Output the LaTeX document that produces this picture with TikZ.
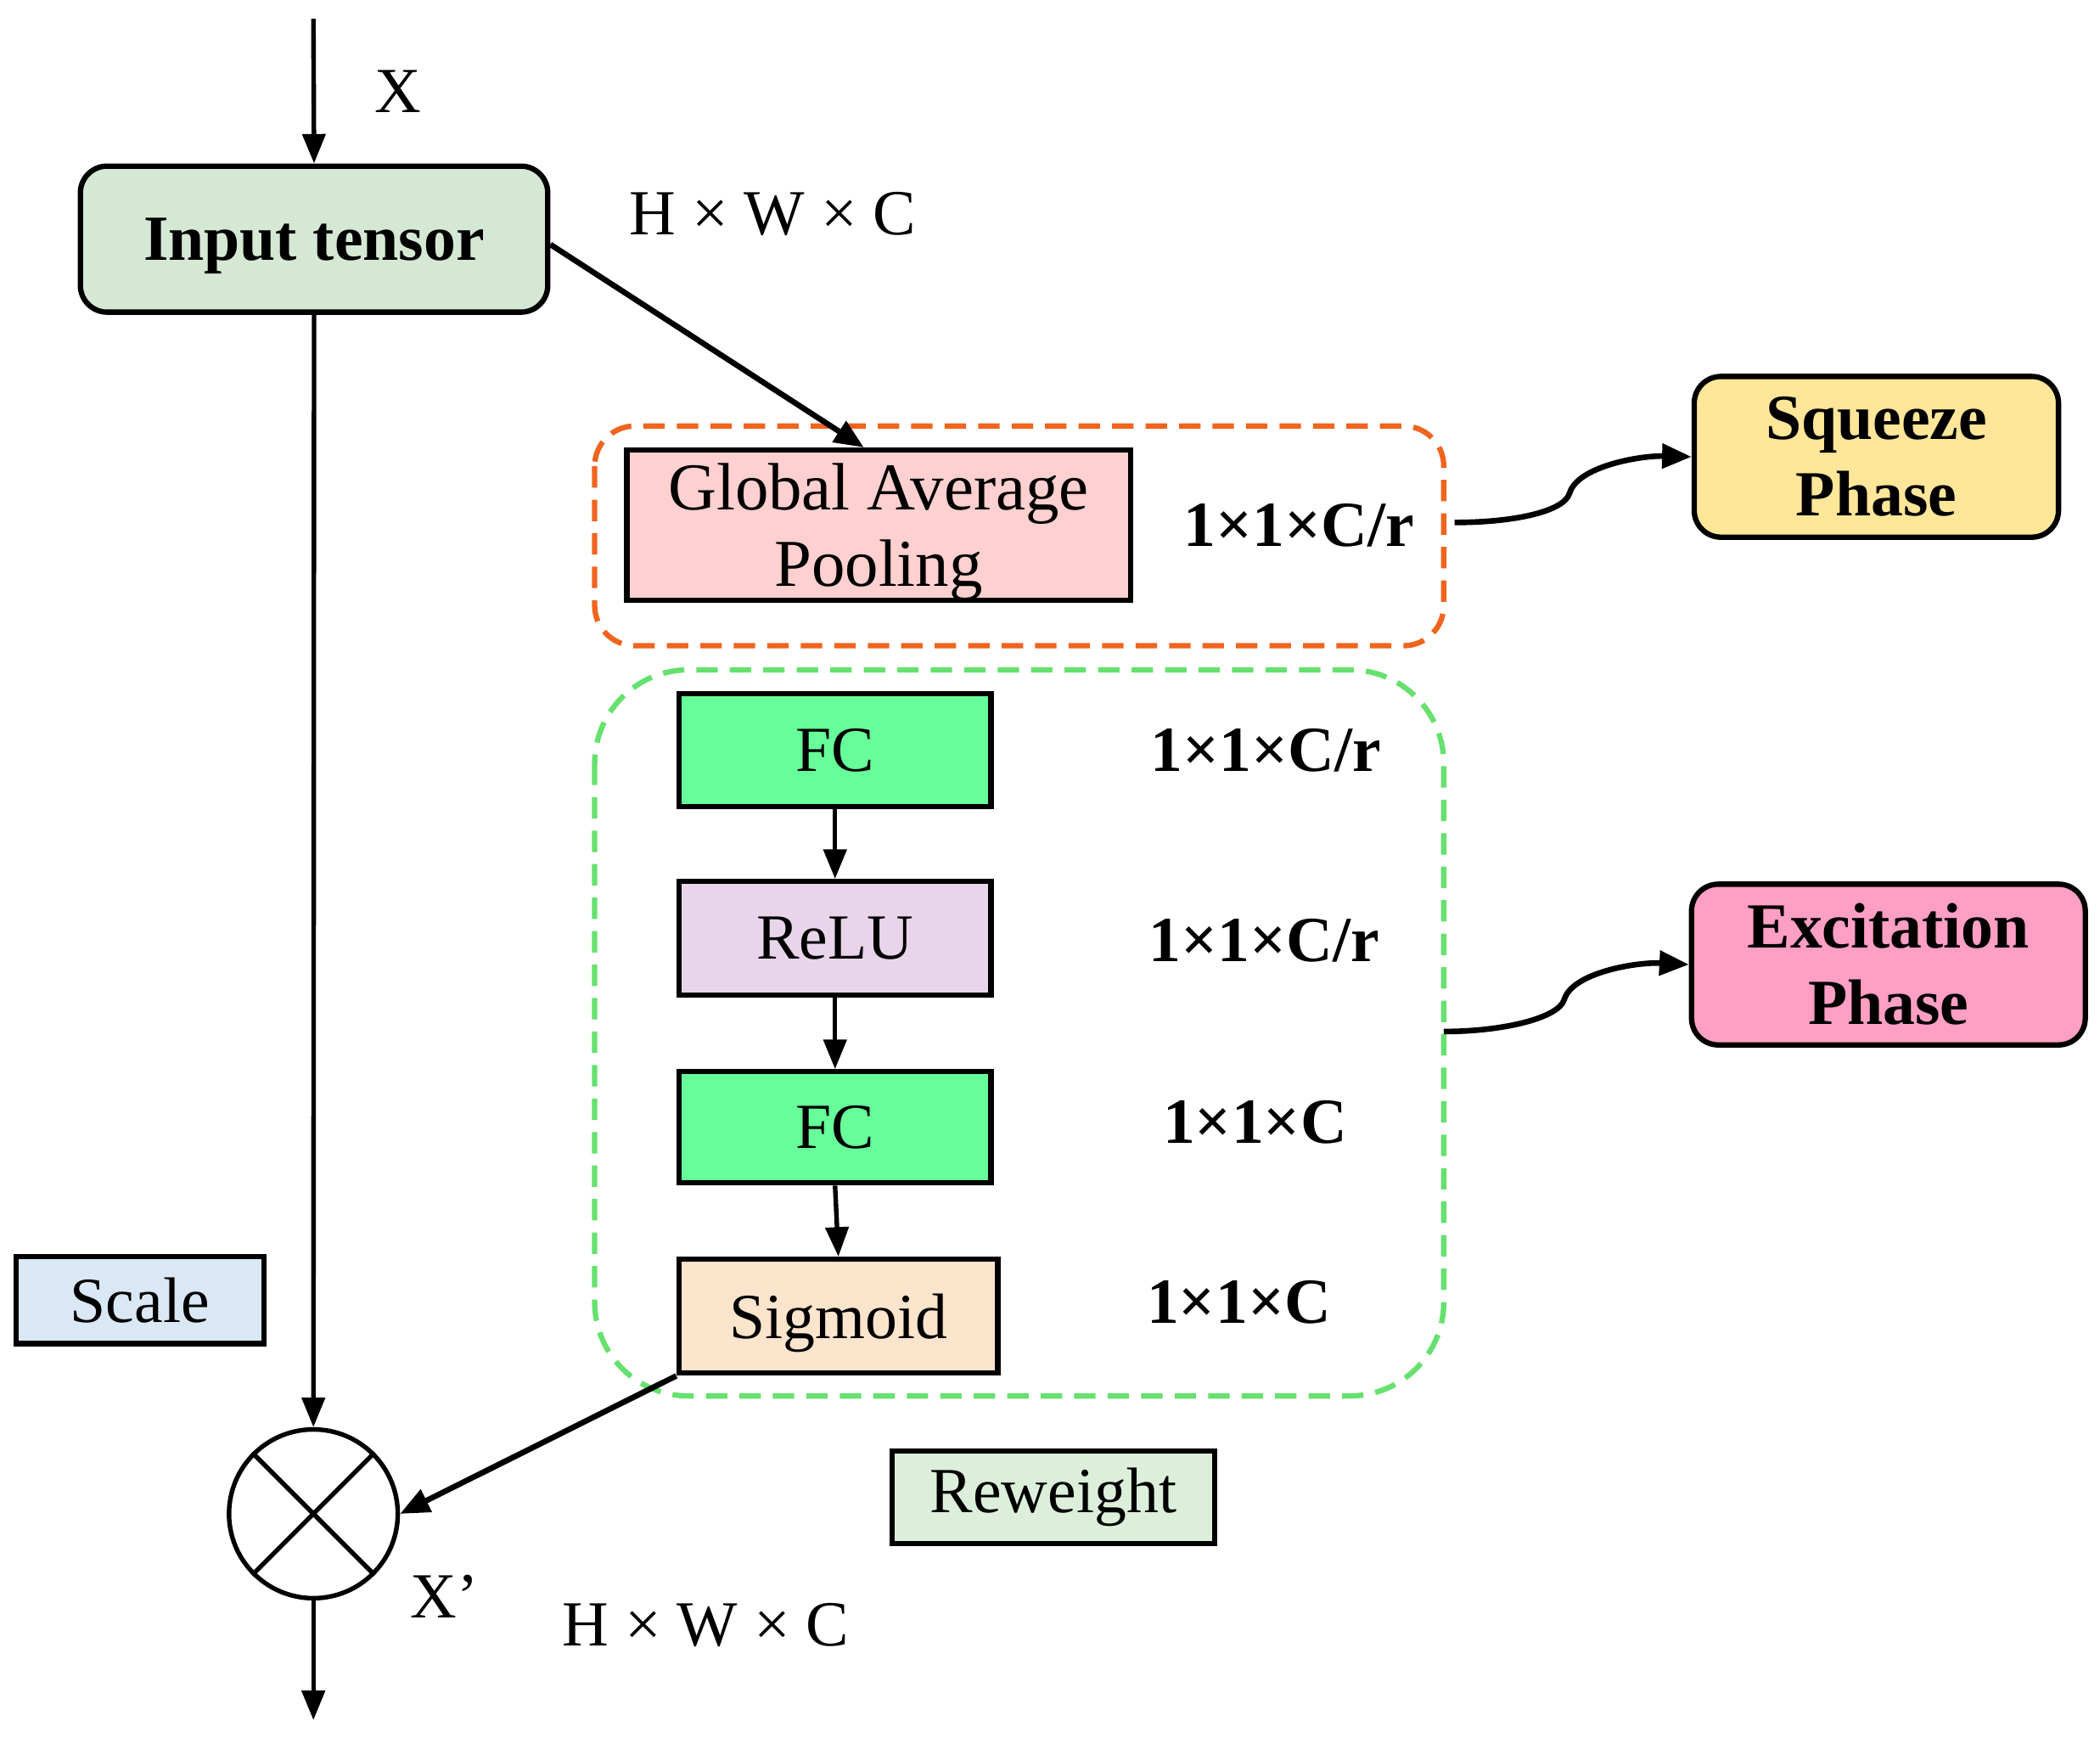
\documentclass[tikz,border=0pt]{standalone}
\usepackage{fontspec}
\setmainfont{Liberation Serif}
\usetikzlibrary{arrows.meta,shapes.geometric,calc}
\definecolor{inpfill}{HTML}{D5E8D4}
\definecolor{gapfill}{HTML}{FFD0D0}
\definecolor{sqfill}{HTML}{FFE699}
\definecolor{excfill}{HTML}{FF9FC3}
\definecolor{fcfill}{HTML}{66FF99}
\definecolor{relufill}{HTML}{E8D5EA}
\definecolor{sigfill}{HTML}{FDE4CC}
\definecolor{scalefill}{HTML}{DAE8F5}
\definecolor{rwfill}{HTML}{DCEFDA}
\definecolor{orangedash}{HTML}{F0641E}
\definecolor{greendash}{HTML}{66E06E}
\begin{document}
\begin{tikzpicture}[x=0.5pt,y=-0.5pt,
  txt/.style={font=\fontsize{24}{28}\selectfont},
  btxt/.style={font=\fontsize{24}{28}\selectfont\bfseries},
  sqbox/.style={draw,line width=2pt,rectangle,inner sep=0pt,align=center,font=\fontsize{24}{28}\selectfont},
  rbox/.style={draw,line width=2pt,rectangle,rounded corners=10pt,inner sep=0pt,align=center,font=\fontsize{24}{28.5}\selectfont\bfseries},
  arr/.style={line width=2.1pt,-{Triangle[length=11pt,width=9pt]}},
  thin arr/.style={line width=1.7pt,-{Triangle[length=11pt,width=8.5pt]}},
  grp/.style={line width=2pt,dash pattern=on 8pt off 4.5pt}]
\useasboundingbox (0,0) rectangle (1568,1297);

% group frames
\draw[grp,orangedash,rounded corners=15pt] (444,318) rectangle (1078,482);
\draw[grp,greendash,rounded corners=35pt] (444,500) rectangle (1078,1042);

% nodes
\node[rbox,fill=inpfill,minimum width=174.5pt,minimum height=54.5pt,text depth=0pt] (inp) at (234.5,178.5) {Input tensor};
\node[sqbox,fill=gapfill,minimum width=188pt,minimum height=56pt] (gap) at (656,392) {};
\node[align=center,inner sep=0pt,font=\fontsize{25}{28.5}\selectfont] (gaptxt) at (656,397) {Global Average\\Pooling};
\node[rbox,fill=sqfill,minimum width=136pt,minimum height=60pt] (sq) at (1401,341) {Squeeze\\Phase};
\node[rbox,fill=excfill,minimum width=147pt,minimum height=60pt] (exc) at (1410,720) {Excitation\\Phase};
\node[sqbox,fill=fcfill,minimum width=116.5pt,minimum height=42pt] (fc1) at (623.5,560) {FC};
\node[sqbox,fill=relufill,minimum width=116.5pt,minimum height=42.5pt] (relu) at (623.5,700.5) {ReLU};
\node[sqbox,fill=fcfill,minimum width=116.5pt,minimum height=41.5pt] (fc2) at (623.5,841.5) {FC};
\node[sqbox,fill=sigfill,minimum width=119pt,minimum height=42.5pt,text depth=0pt] (sig) at (626,982.5) {Sigmoid};
\node[sqbox,fill=scalefill,minimum width=92.5pt,minimum height=32.5pt] (scale) at (104.5,970.5) {Scale};
\node[sqbox,fill=rwfill,minimum width=120.5pt,minimum height=34.5pt] (rw) at (786.5,1117.5) {Reweight};
\node[circle,draw,line width=1.7pt,minimum size=63pt,inner sep=0pt] (mul) at (234,1130) {};
\draw[line width=1.7pt] (mul.north west) -- (mul.south east) (mul.north east) -- (mul.south west);

% text labels
\node[txt] (lx) at (297,68) {X};
\node[txt] (lhwc1) at (577,160) {H \texttimes{} W \texttimes{} C};
\node[btxt] (l0) at (970,392) {1\texttimes1\texttimes C/r};
\node[btxt] (l1) at (945,560) {1\texttimes1\texttimes C/r};
\node[btxt] (l2) at (944,702) {1\texttimes1\texttimes C/r};
\node[btxt] (l3) at (937,838) {1\texttimes1\texttimes C};
\node[btxt] (l4) at (925,972) {1\texttimes1\texttimes C};
\node[txt] (lxp) at (332,1192) {X’};
\node[txt] (lhwc2) at (527,1213) {H \texttimes{} W \texttimes{} C};

% coordinates
\coordinate (top) at (234,14);
\coordinate (bot) at (234,1284);
\coordinate (sqs) at (1086,390);
\coordinate (excs) at (1078,770);

% connectors
\draw[thin arr] (top) -- (inp.north);
\draw[thin arr] (inp.south) -- (mul.north);
\draw[arr] ([yshift=-2pt]inp.east) -- ([xshift=-5.5pt]gap.north);
\draw[thin arr] (fc1.south) -- (relu.north);
\draw[thin arr] (relu.south) -- (fc2.north);
\draw[thin arr] (fc2.south) -- (sig.north);
\draw[arr] (sig.south west) -- (mul.east);
\draw[thin arr] (mul.south) -- (bot);
\draw[arr] (sqs) .. controls (1130,390) and (1168,382) .. (1172,368)
  .. controls (1178,348) and (1225,340) .. (sq.west);
\draw[arr] (excs) .. controls (1122,770) and (1164,760) .. (1168,746)
  .. controls (1174,726) and (1222,718) .. (exc.west);
\end{tikzpicture}
\end{document}
